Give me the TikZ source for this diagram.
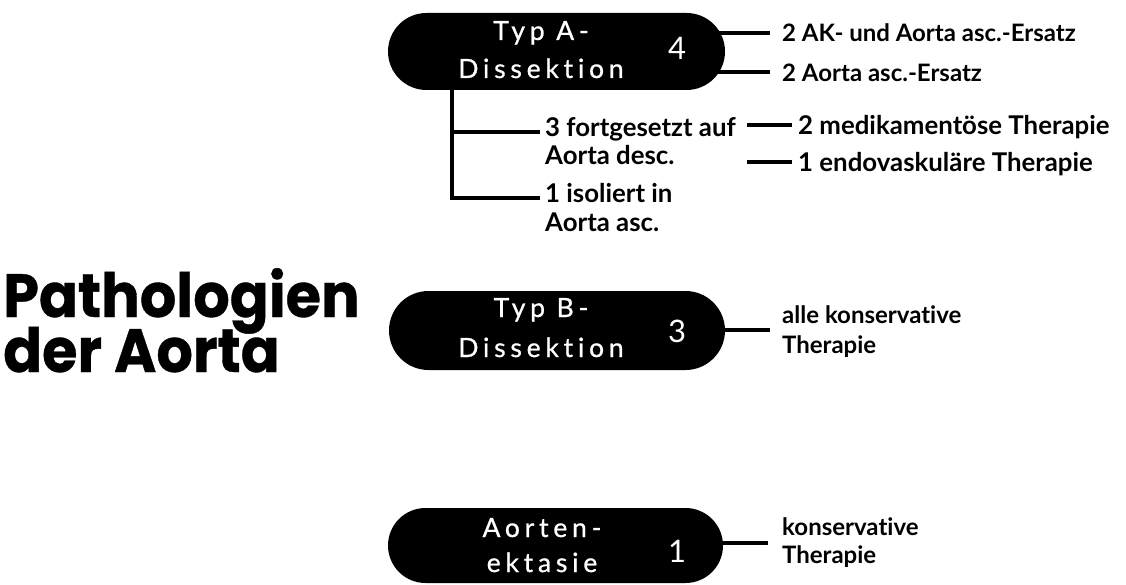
\documentclass[tikz,border=0pt]{standalone}
\usepackage{fontspec}
\setmainfont{Lato}[Ligatures={NoCommon}]
\newfontfamily\titlefont{Poppins}[FakeBold=0.6]
\newfontfamily\pillfont{Lato}[LetterSpace=18,Ligatures={NoCommon},FakeBold=0.8]
\begin{document}
\begin{tikzpicture}[x=1pt,y=-1pt,
  pill/.style 2 args={fill=black, draw=none, inner sep=0pt, minimum width=#1, minimum height=#2, rounded corners=#2/2},
  lbl/.style={font=\fontsize{24}{28}\selectfont\bfseries, inner sep=0pt, anchor=base west},
  lblm/.style={lbl, font=\fontsize{25.8}{30}\selectfont\bfseries},
  ptxt/.style={font=\pillfont\fontsize{26.5}{30}\selectfont, text=white, inner sep=0pt, anchor=base},
  num/.style={font=\fontsize{31}{34}\selectfont, text=white, inner sep=0pt},
  conn/.style={line width=4pt},
  ttl/.style={font=\titlefont\bfseries\fontsize{61}{61}\selectfont, inner sep=0pt, anchor=base west}]
\fill[white] (0,0) rectangle (1126,585);
\useasboundingbox (0,0) rectangle (1126,585);

% title
\node[ttl] (t1) at (3,317) {\scalebox{0.94}[1]{Pathologien}};
\node[ttl] (t2) at (3,372) {\scalebox{0.94}[1]{der Aorta}};

% pills
\node[pill={337}{77}] (pA) at (556.5,51.5) {};
\node[pill={336}{79}] (pB) at (557,330.5) {};
\node[pill={335}{75}] (pC) at (555.5,545.5) {};

\node[ptxt] (pA1) at (541,40) {Typ A-};
\node[ptxt] (pA2) at (541,78) {Dissektion};
\node[num] (nA) at (677,48) {4};

\node[ptxt] (pB1) at (541,317) {Typ B-};
\node[ptxt] (pB2) at (541,357) {Dissektion};
\node[num] (nB) at (677,331) {3};

\node[ptxt] (pC1) at (542,537) {Aorten-};
\node[ptxt] (pC2) at (542,572) {ektasie};
\node[num] (nC) at (677,551) {1};

% labels Typ A
\node[lbl] (a1) at (782,42) {2 AK- und Aorta asc.-Ersatz};
\node[lbl] (a2) at (782,82) {2 Aorta asc.-Ersatz};
\node[lblm] (f1a) at (545,137) {3 fortgesetzt auf};
\node[lblm] (f1b) at (545,165) {Aorta desc.};
\node[lblm] (i1a) at (545,203) {1 isoliert in};
\node[lblm] (i1b) at (545,232) {Aorta asc.};
\node[lblm] (m1) at (798,135) {2 medikamentöse Therapie};
\node[lblm] (m2) at (798,172) {1 endovaskuläre Therapie};

% labels Typ B and Aortenektasie
\node[lbl] (b1) at (782,323) {alle konservative};
\node[lbl] (b2) at (782,353) {Therapie};
\node[lbl] (c1) at (782,535) {konservative};
\node[lbl] (c2) at (782,563) {Therapie};

% connector end points
\coordinate (a1e) at (770,33);
\coordinate (a2e) at (770,72);
\coordinate (v0) at (452,198);
\coordinate (f1e) at (540,132);
\coordinate (i1e) at (540,198);
\coordinate (m1s) at (747,125);
\coordinate (m1e) at (792,125);
\coordinate (m2s) at (747,162);
\coordinate (m2e) at (792,162);
\coordinate (be) at (770,330);
\coordinate (ce) at (768,543);

% connectors
\draw[conn] (pA.east |- a1e) ++(-8,0) -- (a1e);
\draw[conn] (pA.east |- a2e) ++(-8,0) -- (a2e);
\draw[conn] (pA.south -| v0) ++(0,-4) -- (v0) -- (i1e);
\draw[conn] (v0 |- f1e) -- (f1e);
\draw[conn] (m1s) -- (m1e);
\draw[conn] (m2s) -- (m2e);
\draw[conn] (pB.east |- be) ++(-6,0) -- (be);
\draw[conn] (pC.east |- ce) ++(-6,0) -- (ce);
\end{tikzpicture}
\end{document}
